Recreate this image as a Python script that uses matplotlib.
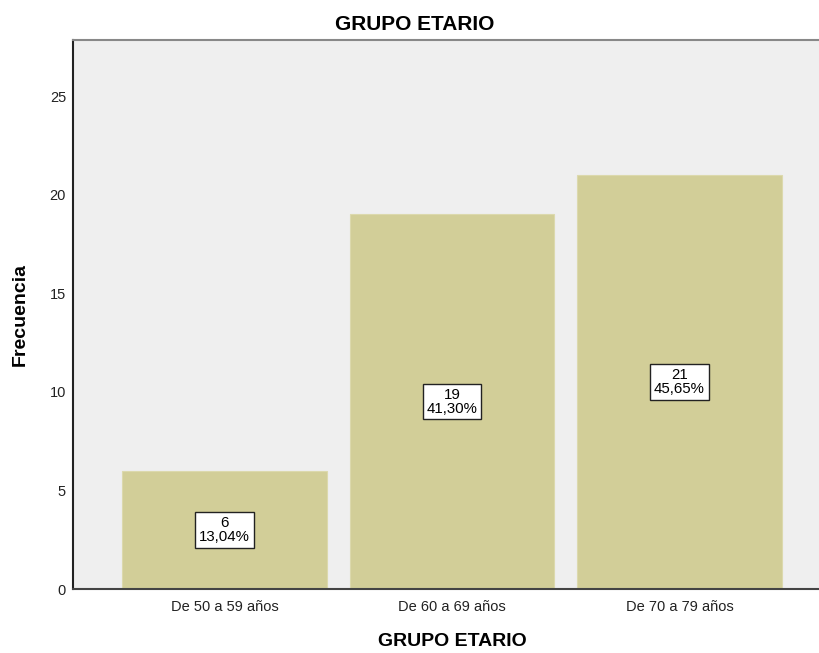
import matplotlib
matplotlib.use("Agg")
import matplotlib.pyplot as plt

categories = ["De 50 a 59 años", "De 60 a 69 años", "De 70 a 79 años"]
counts = [6, 19, 21]
percents = ["13,04%", "41,30%", "45,65%"]

plt.rcParams["font.family"] = ["Liberation Sans", "DejaVu Sans"]

fig = plt.figure(figsize=(8.2, 6.53), dpi=100)
ax = fig.add_axes([0.089, 0.098, 0.911, 0.8407])
ax.set_facecolor("#efefef")

x = range(len(categories))
ax.bar(x, counts, width=0.9, color="#d2ce98", edgecolor="#dcd9ad", linewidth=0.8, zorder=2)

# value + percent boxes in the middle of each bar
for i, (c, p) in enumerate(zip(counts, percents)):
    ax.text(i, c / 2, f"{c}\n{p}", ha="center", va="center", fontsize=10.8,
            linespacing=1.0, zorder=3,
            bbox=dict(boxstyle="square,pad=0.25", facecolor="white",
                      edgecolor="#222222", linewidth=1))

ax.set_xlim(-0.666, 2.618)
ax.set_ylim(0, 27.84)
ax.set_yticks([0, 5, 10, 15, 20, 25])
ax.set_xticks(list(x), categories)
ax.tick_params(axis="both", length=0, labelsize=10.5, colors="#222222")
ax.tick_params(axis="x", pad=8)
ax.tick_params(axis="y", pad=5)

ax.spines["right"].set_visible(False)
ax.spines["left"].set_color("#222222")
ax.spines["bottom"].set_color("#444444")
ax.spines["top"].set_color("#888888")
for s in ["left", "bottom", "top"]:
    ax.spines[s].set_linewidth(1.5)

ax.set_title("GRUPO ETARIO", fontsize=15, fontweight="bold", x=0.458, pad=7)
ax.set_xlabel("GRUPO ETARIO", fontsize=14, fontweight="bold")
ax.xaxis.set_label_coords(0.508, -0.081)
ax.set_ylabel("Frecuencia", fontsize=14, fontweight="bold")
ax.yaxis.set_label_coords(-0.059, 0.5)

fig.savefig("out.png", dpi=100)
plt.close(fig)
